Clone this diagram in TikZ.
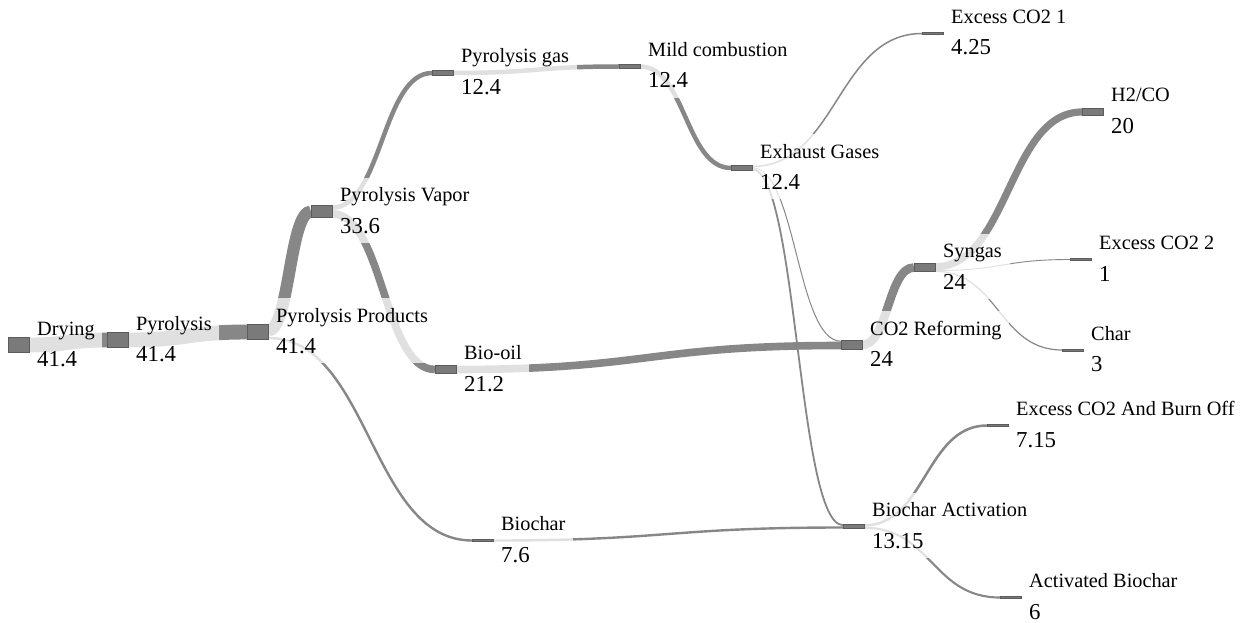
\documentclass[tikz,border=0pt]{standalone}
\usepackage{fontspec}
\setmainfont{Liberation Serif}
\usetikzlibrary{calc,fit}
\pgfdeclarelayer{back}
\pgfdeclarelayer{mid}
\pgfsetlayers{back,mid,main}
\definecolor{linkc}{RGB}{135,135,135}
\definecolor{ndfill}{RGB}{122,122,122}
\definecolor{ndborder}{RGB}{92,92,92}
\tikzset{
  nd/.style={draw=ndborder, fill=ndfill, line width=1pt, inner sep=0pt, outer sep=0pt, minimum width=21pt, anchor=west},
  lname/.style={anchor=base west, inner sep=0pt, font=\fontsize{20.3}{24}\selectfont, text height=14pt, text depth=5pt},
  lval/.style={anchor=base west, inner sep=0pt, font=\fontsize{22.8}{27}\selectfont, text height=16pt, text depth=0pt},
  lbox/.style={fill=white, fill opacity=0.75, inner xsep=7.5pt, inner ysep=9.5pt, draw=none},
  lnk/.style={draw=linkc, line cap=butt},
}
% #1 source, #2 source offset, #3 target, #4 target offset, #5 width (drawn)
\newcommand\sklink[5]{%
  \begin{pgfonlayer}{back}
    \coordinate (s1) at ($(#1.north east)+(0,#2)$);
    \coordinate (t1) at ($(#3.north west)+(0,#4)$);
    \coordinate (m) at ($(s1)!.5!(t1)$);
    \draw[lnk, line width=#5pt] (s1) .. controls (m |- s1) and (m |- t1) .. (t1);
  \end{pgfonlayer}}
% #1 node, #2 name, #3 value
\newcommand\sklab[3]{%
  \node[lname] (#1n) at ($(#1.east)+(8,-10)$) {#2};
  \node[lval] (#1v) at ($(#1.east)+(8,21.5)$) {#3};
  \begin{pgfonlayer}{mid}
    \node[lbox, fit=(#1n)(#1v)] (#1b) {};
  \end{pgfonlayer}}
\begin{document}
\begin{tikzpicture}[x=1pt,y=-1pt]
\useasboundingbox (0,0) rectangle (1247,623);
\begin{pgfonlayer}{back}
\fill[white] (0,0) rectangle (1247,623);
\end{pgfonlayer}
% nodes
\node[nd, minimum height=14.9pt] (dry)  at (8,345) {};
\node[nd, minimum height=14.9pt] (pyr)  at (107,340) {};
\node[nd, minimum height=14.9pt] (prod) at (247,332) {};
\node[nd, minimum height=12.1pt] (vap)  at (311,211.5) {};
\node[nd, minimum height=4.5pt]  (gas)  at (432,73) {};
\node[nd, minimum height=7.6pt]  (oil)  at (435,369.5) {};
\node[nd, minimum height=2.7pt]  (bch)  at (472,540.5) {};
\node[nd, minimum height=4.5pt]  (mild) at (619,66.5) {};
\node[nd, minimum height=4.5pt]  (exh)  at (731,168) {};
\node[nd, minimum height=2pt]    (exa)  at (922,33.5) {};
\node[nd, minimum height=8.6pt]  (cor)  at (841,345) {};
\node[nd, minimum height=4.7pt]  (bact) at (843,526.5) {};
\node[nd, minimum height=8.6pt]  (syn)  at (914,267.5) {};
\node[nd, minimum height=7.2pt]  (htwo) at (1082,112) {};
\node[nd, minimum height=2pt]    (exb)  at (1070,259.5) {};
\node[nd, minimum height=2pt]    (chr)  at (1062,350) {};
\node[nd, minimum height=2.6pt]  (burn) at (987,425.5) {};
\node[nd, minimum height=2.2pt]  (act)  at (1000,597.5) {};
% labels
\sklab{dry}{Drying}{41.4}
\sklab{pyr}{Pyrolysis}{41.4}
\sklab{prod}{Pyrolysis Products}{41.4}
\sklab{vap}{Pyrolysis Vapor}{33.6}
\sklab{gas}{Pyrolysis gas}{12.4}
\sklab{oil}{Bio-oil}{21.2}
\sklab{bch}{Biochar}{7.6}
\sklab{mild}{Mild combustion}{12.4}
\sklab{exh}{Exhaust Gases}{12.4}
\sklab{exa}{Excess CO2 1}{4.25}
\sklab{cor}{CO2 Reforming}{24}
\sklab{bact}{Biochar Activation}{13.15}
\sklab{syn}{Syngas}{24}
\sklab{htwo}{H2/CO}{20}
\sklab{exb}{Excess CO2 2}{1}
\sklab{chr}{Char}{3}
\sklab{burn}{Excess CO2 And Burn Off}{7.15}
\sklab{act}{Activated Biochar}{6}
% links (offsets are to the centre line of each flow)
\sklink{dry}{7.45}{pyr}{7.45}{14.9}
\sklink{pyr}{7.45}{prod}{7.45}{14.9}
\sklink{prod}{6.05}{vap}{6.05}{12.1}
\sklink{prod}{13.45}{bch}{1.35}{2.4}
\sklink{vap}{2.25}{gas}{2.25}{4.5}
\sklink{vap}{8.3}{oil}{3.8}{7.6}
\sklink{gas}{2.25}{mild}{2.25}{4.5}
\sklink{mild}{2.25}{exh}{2.25}{4.5}
\sklink{exh}{0.77}{exa}{1.0}{1.5}
\sklink{exh}{2.03}{cor}{0.5}{1.0}
\sklink{exh}{3.53}{bact}{1.0}{1.8}
\sklink{oil}{3.8}{cor}{4.8}{7.6}
\sklink{cor}{4.3}{syn}{4.3}{8.6}
\sklink{bch}{1.35}{bact}{3.35}{2.4}
\sklink{syn}{3.6}{htwo}{3.6}{7.2}
\sklink{syn}{7.4}{exb}{1.0}{0.9}
\sklink{syn}{8.1}{chr}{1.0}{1.2}
\sklink{bact}{1.3}{burn}{1.3}{2.5}
\sklink{bact}{3.6}{act}{1.1}{2.1}
\end{tikzpicture}
\end{document}
